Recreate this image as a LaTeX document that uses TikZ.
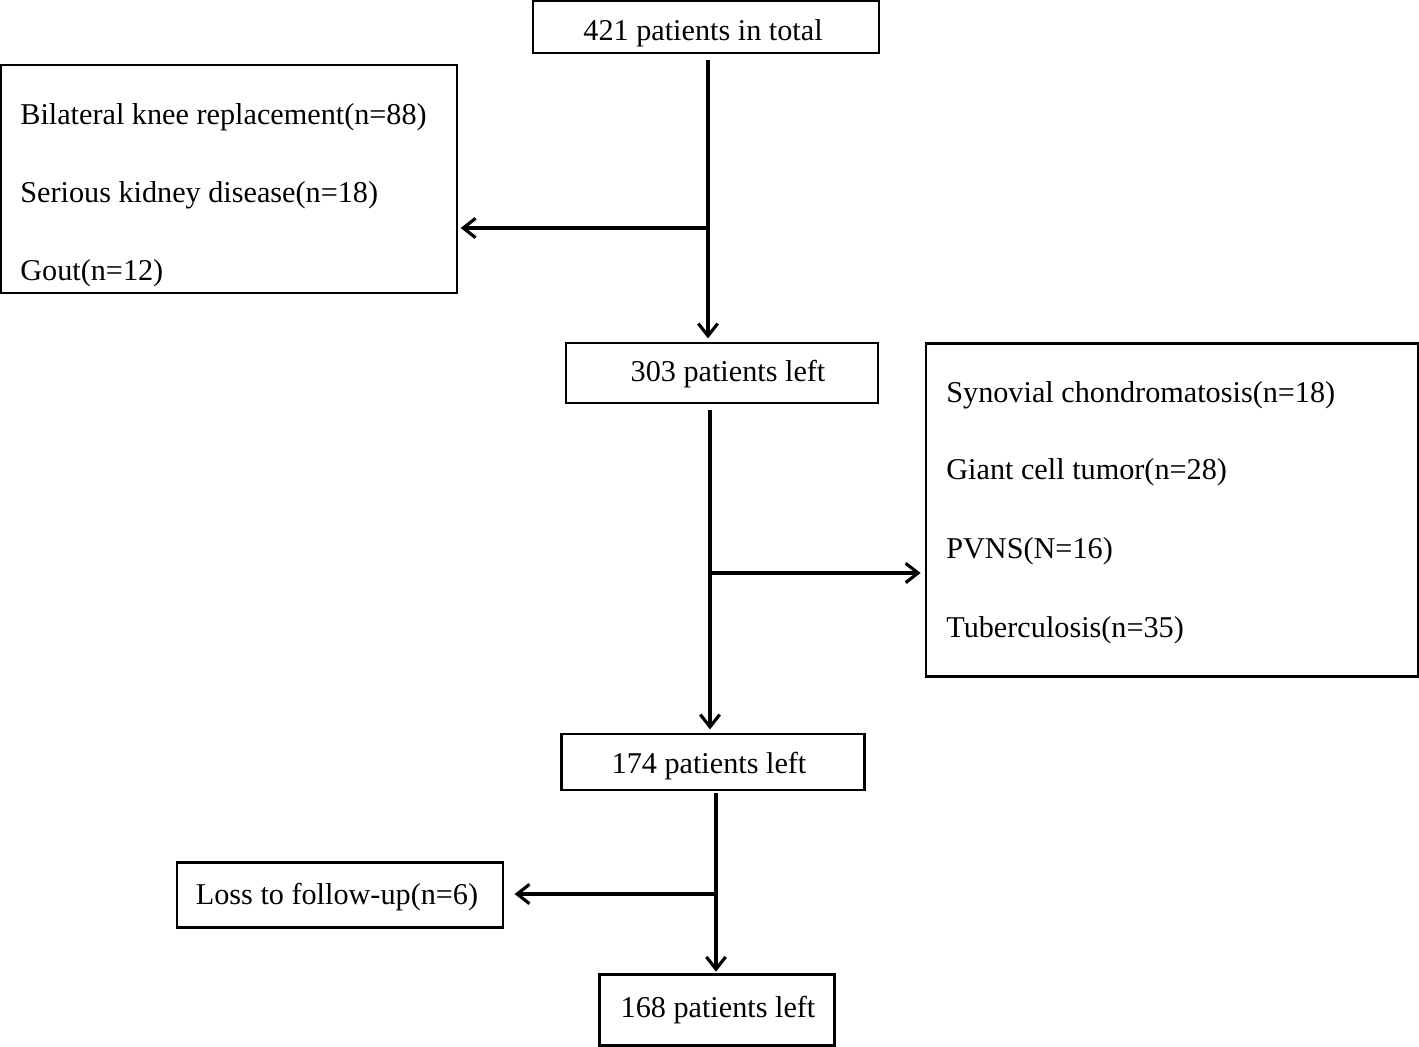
\documentclass[tikz,border=0pt]{standalone}
\usepackage{fontspec}
\setmainfont{Liberation Serif}
\usetikzlibrary{arrows.meta}
\begin{document}
\begin{tikzpicture}[x=0.02cm,y=-0.02cm,
  box/.style={draw,line width=1.2pt,inner sep=0pt},
  conn/.style={line width=1.8pt},
  arr/.style={conn,-{Straight Barb[length=7pt,width=11pt,line width=1.8pt]}},
  txt/.style={inner sep=0pt,font=\fontsize{17.2}{20}\selectfont},
  ltxt/.style={txt,anchor=west}]
\useasboundingbox (0,0) rectangle (1419,1047);
% boxes
\node[box,minimum width=346*0.02cm,minimum height=52*0.02cm] (top) at (706,27) {};
\node[box,minimum width=456*0.02cm,minimum height=228*0.02cm] (left) at (229,179) {};
\node[box,minimum width=312*0.02cm,minimum height=60*0.02cm] (p303) at (722,373) {};
\node[box,minimum width=492*0.02cm,minimum height=333*0.02cm] (right) at (1172,510) {};
\node[box,minimum width=303*0.02cm,minimum height=56*0.02cm] (p174) at (713,762) {};
\node[box,minimum width=326*0.02cm,minimum height=65*0.02cm] (loss) at (340,895) {};
\node[box,minimum width=235*0.02cm,minimum height=71*0.02cm] (p168) at (717,1010) {};
% texts
\node[txt] (t0) at (703,33) {421 patients in total};
\node[txt] (t1) at (728,374) {303 patients left};
\node[txt] (t2) at (709,766) {174 patients left};
\node[txt] (t3) at (337,897) {Loss to follow-up(n=6)};
\node[txt] (t4) at (718,1010) {168 patients left};
\node[ltxt] (l1) at (20,117) {Bilateral knee replacement(n=88)};
\node[ltxt] (l2) at (20,195) {Serious kidney disease(n=18)};
\node[ltxt] (l3) at (20,273) {Gout(n=12)};
\node[ltxt] (r1) at (946,395) {Synovial chondromatosis(n=18)};
\node[ltxt] (r2) at (946,472) {Giant cell tumor(n=28)};
\node[ltxt] (r3) at (946,551) {PVNS(N=16)};
\node[ltxt] (r4) at (946,630) {Tuberculosis(n=35)};
% connectors
\coordinate (a1) at (708,60);
\coordinate (j1) at (708,228);
\coordinate (a2) at (710,410);
\coordinate (j2) at (710,573);
\coordinate (a3) at (716,793);
\coordinate (j3) at (716,894);
\draw[arr,shorten >=2pt] (a1) -- (a1 |- p303.north);
\draw[arr,shorten >=1.5pt] (j1) -- (left.east |- j1);
\draw[arr,shorten >=2pt] (a2) -- (a2 |- p174.north);
\draw[arr,shorten >=2.5pt] (j2) -- (right.west |- j2);
\draw[arr,shorten >=1pt] (a3) -- (a3 |- p168.north);
\draw[arr,shorten >=6pt] (j3) -- (loss.east |- j3);
\end{tikzpicture}
\end{document}
